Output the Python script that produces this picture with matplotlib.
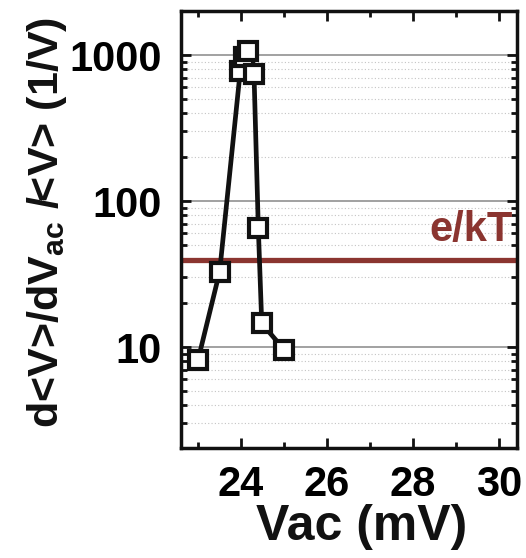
import numpy as np
import matplotlib as mpl
import matplotlib.pyplot as plt
from matplotlib.ticker import LogLocator, NullFormatter, FixedLocator

mpl.rcParams['font.family'] = 'Liberation Sans'
mpl.rcParams['font.weight'] = 'bold'
mpl.rcParams['mathtext.fontset'] = 'custom'
mpl.rcParams['mathtext.rm'] = 'Liberation Sans:bold'
mpl.rcParams['mathtext.bf'] = 'Liberation Sans:bold'
mpl.rcParams['mathtext.default'] = 'bf'

# data
vac = [23.0, 23.5, 23.98, 24.07, 24.17, 24.30, 24.40, 24.48, 25.0]
resp = [8.2, 32.8, 780, 970, 1070, 740, 65.6, 14.5, 9.6]
ekt = 39.6

fig = plt.figure(figsize=(5.26, 5.58), dpi=100)
ax = fig.add_axes([0.344, 0.197, 0.639, 0.783])

ax.set_yscale('log')
ax.set_xlim(22.6, 30.42)
ax.set_ylim(2.03, 2000)

# grid
for v in [10, 100, 1000]:
    ax.axhline(v, color='#9a9a9a', lw=1.3, zorder=1)
for dec in [1, 10, 100, 1000]:
    for m in range(2, 10):
        v = dec*m
        if 2.03 < v < 2000:
            ax.axhline(v, color='#c4c4c4', lw=0.8, ls=(0, (1, 2)), zorder=1)

ax.axhline(ekt, color='#8b3530', lw=3.8, zorder=2)
ax.text(30.33, ekt*1.17, 'e/kT', color='#8b3530', fontsize=30,
        fontweight='bold', ha='right', va='bottom')

ax.plot(vac, resp, color='#111111', lw=3.4, marker='s', ms=13.5,
        mfc='white', mec='#111111', mew=3, zorder=3)

ax.xaxis.set_major_locator(FixedLocator([24, 26, 28, 30]))
ax.xaxis.set_minor_locator(FixedLocator([23, 25, 27, 29]))
ax.yaxis.set_major_locator(FixedLocator([10, 100, 1000]))
ax.yaxis.set_minor_locator(LogLocator(base=10, subs=np.arange(2, 10)))
ax.yaxis.set_minor_formatter(NullFormatter())
ax.set_yticklabels(['10', '100', '1000'])

ax.tick_params(which='both', direction='in', top=True, right=True,
               width=2, color='#111111')
ax.tick_params(which='major', length=7)
ax.tick_params(which='minor', length=4)
ax.tick_params(axis='x', labelsize=30, pad=12)
ax.tick_params(axis='y', labelsize=30, pad=14)
for lab in ax.get_xticklabels() + ax.get_yticklabels():
    lab.set_fontweight('bold')
for s in ax.spines.values():
    s.set_linewidth(2.5)
    s.set_color('#111111')

fig.text(0.688, 0.055, 'Vac (mV)', fontsize=36, ha='center', va='center',
         color='#111111')
fig.text(0.09, 0.602, r'd<V>/dV$_{ac}$ /<V> (1/V)', fontsize=31,
         rotation=90, ha='center', va='center', color='#111111')

fig.savefig('out.png', dpi=100)
